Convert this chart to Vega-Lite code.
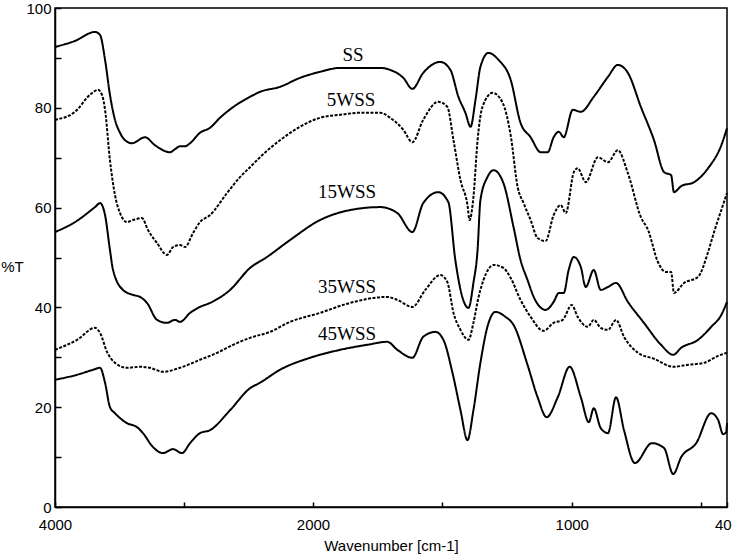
{
 "$schema": "https://vega.github.io/schema/vega-lite/v6.json",
 "width": 672, "height": 499,
 "autosize": "none",
 "padding": {"left": 55, "top": 8, "right": 5, "bottom": 49},
 "background": "white",
 "config": {
  "view": {"stroke": "black", "strokeWidth": 1.5},
  "font": "Liberation Sans",
  "axis": {"grid": false, "domainColor": "black", "tickColor": "black", "labelColor": "black", "titleColor": "black",
   "labelFont": "Liberation Sans", "titleFont": "Liberation Sans", "labelFontSize": 15, "titleFontSize": 15,
   "titleFontWeight": "normal", "domainWidth": 1.5, "tickWidth": 1.5}
 },
 "layer": [
  {
   "data": {"values": [
    {"series":"SS","wn":4000,"T":92.2},{"series":"SS","wn":3845,"T":93.4},{"series":"SS","wn":3690,"T":95.2},{"series":"SS","wn":3651,"T":94.6},{"series":"SS","wn":3612,"T":89.6},{"series":"SS","wn":3574,"T":82.6},{"series":"SS","wn":3535,"T":77.6},{"series":"SS","wn":3496,"T":75.0},{"series":"SS","wn":3457,"T":73.5},{"series":"SS","wn":3403,"T":72.9},{"series":"SS","wn":3302,"T":74.1},{"series":"SS","wn":3225,"T":72.5},{"series":"SS","wn":3109,"T":71.1},{"series":"SS","wn":3070,"T":71.7},{"series":"SS","wn":3031,"T":72.3},{"series":"SS","wn":2992,"T":72.3},{"series":"SS","wn":2953,"T":72.9},{"series":"SS","wn":2876,"T":75.0},{"series":"SS","wn":2798,"T":76.0},{"series":"SS","wn":2721,"T":78.0},{"series":"SS","wn":2605,"T":80.4},{"series":"SS","wn":2488,"T":82.2},{"series":"SS","wn":2411,"T":83.2},{"series":"SS","wn":2256,"T":84.2},{"series":"SS","wn":2101,"T":86.0},{"series":"SS","wn":1973,"T":87.2},{"series":"SS","wn":1895,"T":88.0},{"series":"SS","wn":1818,"T":88.0},{"series":"SS","wn":1740,"T":88.0},{"series":"SS","wn":1702,"T":87.6},{"series":"SS","wn":1651,"T":86.0},{"series":"SS","wn":1616,"T":83.8},{"series":"SS","wn":1574,"T":87.0},{"series":"SS","wn":1508,"T":89.2},{"series":"SS","wn":1469,"T":87.6},{"series":"SS","wn":1438,"T":82.2},{"series":"SS","wn":1411,"T":79.0},{"series":"SS","wn":1391,"T":76.2},{"series":"SS","wn":1372,"T":81.6},{"series":"SS","wn":1353,"T":88.2},{"series":"SS","wn":1322,"T":91.0},{"series":"SS","wn":1283,"T":89.6},{"series":"SS","wn":1236,"T":85.6},{"series":"SS","wn":1198,"T":77.0},{"series":"SS","wn":1159,"T":74.1},{"series":"SS","wn":1120,"T":71.1},{"series":"SS","wn":1093,"T":71.1},{"series":"SS","wn":1070,"T":74.1},{"series":"SS","wn":1050,"T":75.2},{"series":"SS","wn":1031,"T":74.1},{"series":"SS","wn":996,"T":79.6},{"series":"SS","wn":965,"T":79.2},{"series":"SS","wn":915,"T":82.2},{"series":"SS","wn":860,"T":86.2},{"series":"SS","wn":822,"T":88.6},{"series":"SS","wn":783,"T":87.0},{"series":"SS","wn":733,"T":80.2},{"series":"SS","wn":682,"T":73.5},{"series":"SS","wn":643,"T":67.1},{"series":"SS","wn":616,"T":66.5},{"series":"SS","wn":605,"T":63.1},{"series":"SS","wn":577,"T":64.3},{"series":"SS","wn":527,"T":65.1},{"series":"SS","wn":473,"T":67.9},{"series":"SS","wn":422,"T":72.5},{"series":"SS","wn":400,"T":75.9},

    {"series":"5WSS","wn":4000,"T":77.6},{"series":"5WSS","wn":3845,"T":79.2},{"series":"5WSS","wn":3729,"T":82.6},{"series":"5WSS","wn":3667,"T":83.6},{"series":"5WSS","wn":3636,"T":82.6},{"series":"5WSS","wn":3612,"T":79.6},{"series":"5WSS","wn":3574,"T":69.5},{"series":"5WSS","wn":3535,"T":62.5},{"series":"5WSS","wn":3496,"T":58.9},{"series":"5WSS","wn":3442,"T":57.1},{"series":"5WSS","wn":3395,"T":57.5},{"series":"5WSS","wn":3326,"T":57.9},{"series":"5WSS","wn":3279,"T":55.5},{"series":"5WSS","wn":3209,"T":52.9},{"series":"5WSS","wn":3132,"T":50.5},{"series":"5WSS","wn":3085,"T":52.1},{"series":"5WSS","wn":3031,"T":52.5},{"series":"5WSS","wn":2992,"T":52.1},{"series":"5WSS","wn":2930,"T":54.9},{"series":"5WSS","wn":2876,"T":57.1},{"series":"5WSS","wn":2798,"T":58.5},{"series":"5WSS","wn":2667,"T":62.9},{"series":"5WSS","wn":2566,"T":66.1},{"series":"5WSS","wn":2488,"T":68.1},{"series":"5WSS","wn":2411,"T":70.1},{"series":"5WSS","wn":2256,"T":73.5},{"series":"5WSS","wn":2101,"T":76.2},{"series":"5WSS","wn":1973,"T":78.0},{"series":"5WSS","wn":1895,"T":78.6},{"series":"5WSS","wn":1818,"T":79.0},{"series":"5WSS","wn":1740,"T":79.0},{"series":"5WSS","wn":1702,"T":78.0},{"series":"5WSS","wn":1651,"T":75.6},{"series":"5WSS","wn":1616,"T":73.1},{"series":"5WSS","wn":1574,"T":77.6},{"series":"5WSS","wn":1516,"T":81.2},{"series":"5WSS","wn":1481,"T":80.2},{"series":"5WSS","wn":1457,"T":73.5},{"series":"5WSS","wn":1430,"T":65.5},{"series":"5WSS","wn":1403,"T":60.5},{"series":"5WSS","wn":1395,"T":57.5},{"series":"5WSS","wn":1380,"T":62.1},{"series":"5WSS","wn":1364,"T":73.5},{"series":"5WSS","wn":1345,"T":80.2},{"series":"5WSS","wn":1306,"T":83.0},{"series":"5WSS","wn":1267,"T":81.0},{"series":"5WSS","wn":1236,"T":74.5},{"series":"5WSS","wn":1209,"T":64.1},{"series":"5WSS","wn":1186,"T":60.9},{"series":"5WSS","wn":1159,"T":57.5},{"series":"5WSS","wn":1132,"T":53.9},{"series":"5WSS","wn":1101,"T":53.3},{"series":"5WSS","wn":1070,"T":58.5},{"series":"5WSS","wn":1043,"T":60.5},{"series":"5WSS","wn":1023,"T":58.9},{"series":"5WSS","wn":992,"T":67.1},{"series":"5WSS","wn":977,"T":67.9},{"series":"5WSS","wn":946,"T":65.1},{"series":"5WSS","wn":899,"T":70.1},{"series":"5WSS","wn":860,"T":69.1},{"series":"5WSS","wn":822,"T":71.5},{"series":"5WSS","wn":783,"T":66.9},{"series":"5WSS","wn":733,"T":58.1},{"series":"5WSS","wn":705,"T":55.5},{"series":"5WSS","wn":667,"T":49.1},{"series":"5WSS","wn":636,"T":47.1},{"series":"5WSS","wn":616,"T":47.1},{"series":"5WSS","wn":605,"T":42.9},{"series":"5WSS","wn":566,"T":44.9},{"series":"5WSS","wn":512,"T":46.1},{"series":"5WSS","wn":473,"T":51.1},{"series":"5WSS","wn":450,"T":55.1},{"series":"5WSS","wn":422,"T":59.5},{"series":"5WSS","wn":400,"T":62.9},

    {"series":"15WSS","wn":4000,"T":55.1},{"series":"15WSS","wn":3845,"T":57.1},{"series":"15WSS","wn":3690,"T":60.1},{"series":"15WSS","wn":3651,"T":60.9},{"series":"15WSS","wn":3612,"T":58.5},{"series":"15WSS","wn":3574,"T":51.5},{"series":"15WSS","wn":3550,"T":47.5},{"series":"15WSS","wn":3473,"T":43.5},{"series":"15WSS","wn":3395,"T":42.5},{"series":"15WSS","wn":3341,"T":42.1},{"series":"15WSS","wn":3287,"T":40.9},{"series":"15WSS","wn":3209,"T":37.5},{"series":"15WSS","wn":3132,"T":36.9},{"series":"15WSS","wn":3070,"T":37.5},{"series":"15WSS","wn":3031,"T":37.1},{"series":"15WSS","wn":2953,"T":38.9},{"series":"15WSS","wn":2876,"T":40.1},{"series":"15WSS","wn":2798,"T":40.9},{"series":"15WSS","wn":2643,"T":43.5},{"series":"15WSS","wn":2488,"T":47.9},{"series":"15WSS","wn":2357,"T":50.1},{"series":"15WSS","wn":2178,"T":53.5},{"series":"15WSS","wn":1973,"T":57.5},{"series":"15WSS","wn":1857,"T":59.5},{"series":"15WSS","wn":1740,"T":60.1},{"series":"15WSS","wn":1674,"T":58.9},{"series":"15WSS","wn":1616,"T":55.1},{"series":"15WSS","wn":1574,"T":60.9},{"series":"15WSS","wn":1516,"T":63.1},{"series":"15WSS","wn":1477,"T":61.1},{"series":"15WSS","wn":1450,"T":49.5},{"series":"15WSS","wn":1423,"T":42.1},{"series":"15WSS","wn":1399,"T":39.9},{"series":"15WSS","wn":1380,"T":44.9},{"series":"15WSS","wn":1364,"T":51.5},{"series":"15WSS","wn":1353,"T":61.5},{"series":"15WSS","wn":1326,"T":66.1},{"series":"15WSS","wn":1302,"T":67.5},{"series":"15WSS","wn":1264,"T":64.9},{"series":"15WSS","wn":1225,"T":56.1},{"series":"15WSS","wn":1198,"T":49.5},{"series":"15WSS","wn":1171,"T":45.5},{"series":"15WSS","wn":1147,"T":42.1},{"series":"15WSS","wn":1101,"T":39.5},{"series":"15WSS","wn":1070,"T":41.1},{"series":"15WSS","wn":1050,"T":42.9},{"series":"15WSS","wn":1031,"T":42.9},{"series":"15WSS","wn":1012,"T":47.5},{"series":"15WSS","wn":992,"T":50.1},{"series":"15WSS","wn":965,"T":48.1},{"series":"15WSS","wn":946,"T":44.1},{"series":"15WSS","wn":915,"T":47.5},{"series":"15WSS","wn":888,"T":43.5},{"series":"15WSS","wn":860,"T":44.1},{"series":"15WSS","wn":829,"T":44.9},{"series":"15WSS","wn":783,"T":41.1},{"series":"15WSS","wn":721,"T":36.9},{"series":"15WSS","wn":655,"T":32.5},{"series":"15WSS","wn":608,"T":30.5},{"series":"15WSS","wn":577,"T":31.9},{"series":"15WSS","wn":512,"T":33.5},{"series":"15WSS","wn":461,"T":36.1},{"series":"15WSS","wn":422,"T":38.5},{"series":"15WSS","wn":400,"T":41.1},

    {"series":"35WSS","wn":4000,"T":31.5},{"series":"35WSS","wn":3829,"T":33.5},{"series":"35WSS","wn":3690,"T":35.9},{"series":"35WSS","wn":3651,"T":34.9},{"series":"35WSS","wn":3597,"T":31.1},{"series":"35WSS","wn":3535,"T":28.9},{"series":"35WSS","wn":3442,"T":27.9},{"series":"35WSS","wn":3341,"T":28.1},{"series":"35WSS","wn":3264,"T":27.9},{"series":"35WSS","wn":3163,"T":27.1},{"series":"35WSS","wn":3031,"T":27.9},{"series":"35WSS","wn":2876,"T":29.5},{"series":"35WSS","wn":2744,"T":30.9},{"series":"35WSS","wn":2620,"T":32.5},{"series":"35WSS","wn":2488,"T":33.9},{"series":"35WSS","wn":2333,"T":35.1},{"series":"35WSS","wn":2178,"T":37.1},{"series":"35WSS","wn":1973,"T":38.9},{"series":"35WSS","wn":1857,"T":40.9},{"series":"35WSS","wn":1713,"T":42.1},{"series":"35WSS","wn":1674,"T":41.5},{"series":"35WSS","wn":1616,"T":40.1},{"series":"35WSS","wn":1566,"T":43.5},{"series":"35WSS","wn":1508,"T":46.5},{"series":"35WSS","wn":1481,"T":45.1},{"series":"35WSS","wn":1457,"T":38.9},{"series":"35WSS","wn":1430,"T":35.5},{"series":"35WSS","wn":1399,"T":33.5},{"series":"35WSS","wn":1380,"T":36.9},{"series":"35WSS","wn":1360,"T":42.1},{"series":"35WSS","wn":1341,"T":45.5},{"series":"35WSS","wn":1302,"T":48.5},{"series":"35WSS","wn":1264,"T":47.9},{"series":"35WSS","wn":1236,"T":45.9},{"series":"35WSS","wn":1198,"T":41.5},{"series":"35WSS","wn":1159,"T":38.1},{"series":"35WSS","wn":1109,"T":35.3},{"series":"35WSS","wn":1070,"T":36.9},{"series":"35WSS","wn":1035,"T":37.5},{"series":"35WSS","wn":1000,"T":40.5},{"series":"35WSS","wn":977,"T":38.1},{"series":"35WSS","wn":938,"T":36.1},{"series":"35WSS","wn":915,"T":37.5},{"series":"35WSS","wn":888,"T":35.9},{"series":"35WSS","wn":860,"T":35.5},{"series":"35WSS","wn":829,"T":37.5},{"series":"35WSS","wn":798,"T":34.1},{"series":"35WSS","wn":744,"T":30.9},{"series":"35WSS","wn":682,"T":29.7},{"series":"35WSS","wn":608,"T":28.1},{"series":"35WSS","wn":550,"T":28.5},{"series":"35WSS","wn":488,"T":28.9},{"series":"35WSS","wn":434,"T":30.3},{"series":"35WSS","wn":400,"T":30.9},

    {"series":"45WSS","wn":4000,"T":25.5},{"series":"45WSS","wn":3829,"T":26.5},{"series":"45WSS","wn":3705,"T":27.5},{"series":"45WSS","wn":3651,"T":27.9},{"series":"45WSS","wn":3612,"T":24.9},{"series":"45WSS","wn":3574,"T":20.0},{"series":"45WSS","wn":3535,"T":18.8},{"series":"45WSS","wn":3442,"T":16.8},{"series":"45WSS","wn":3364,"T":16.0},{"series":"45WSS","wn":3318,"T":14.8},{"series":"45WSS","wn":3240,"T":12.0},{"series":"45WSS","wn":3163,"T":10.8},{"series":"45WSS","wn":3085,"T":11.6},{"series":"45WSS","wn":3016,"T":10.8},{"series":"45WSS","wn":2953,"T":12.8},{"series":"45WSS","wn":2876,"T":14.8},{"series":"45WSS","wn":2798,"T":15.4},{"series":"45WSS","wn":2643,"T":19.4},{"series":"45WSS","wn":2488,"T":23.8},{"series":"45WSS","wn":2411,"T":24.9},{"series":"45WSS","wn":2256,"T":27.5},{"series":"45WSS","wn":2023,"T":29.9},{"series":"45WSS","wn":1895,"T":31.5},{"series":"45WSS","wn":1791,"T":32.5},{"series":"45WSS","wn":1713,"T":33.1},{"series":"45WSS","wn":1674,"T":31.5},{"series":"45WSS","wn":1616,"T":29.9},{"series":"45WSS","wn":1574,"T":34.1},{"series":"45WSS","wn":1527,"T":35.1},{"series":"45WSS","wn":1496,"T":33.5},{"series":"45WSS","wn":1461,"T":26.9},{"series":"45WSS","wn":1430,"T":19.4},{"series":"45WSS","wn":1403,"T":13.4},{"series":"45WSS","wn":1380,"T":19.4},{"series":"45WSS","wn":1353,"T":28.9},{"series":"45WSS","wn":1326,"T":36.1},{"series":"45WSS","wn":1295,"T":39.1},{"series":"45WSS","wn":1256,"T":38.1},{"series":"45WSS","wn":1225,"T":36.5},{"series":"45WSS","wn":1171,"T":28.5},{"series":"45WSS","wn":1132,"T":22.0},{"series":"45WSS","wn":1097,"T":18.0},{"series":"45WSS","wn":1054,"T":22.0},{"series":"45WSS","wn":1008,"T":28.1},{"series":"45WSS","wn":965,"T":22.0},{"series":"45WSS","wn":934,"T":17.0},{"series":"45WSS","wn":915,"T":19.8},{"series":"45WSS","wn":888,"T":15.8},{"series":"45WSS","wn":860,"T":14.8},{"series":"45WSS","wn":829,"T":22.0},{"series":"45WSS","wn":798,"T":15.4},{"series":"45WSS","wn":756,"T":8.8},{"series":"45WSS","wn":690,"T":12.8},{"series":"45WSS","wn":643,"T":11.8},{"series":"45WSS","wn":608,"T":6.6},{"series":"45WSS","wn":577,"T":10.0},{"series":"45WSS","wn":519,"T":12.8},{"series":"45WSS","wn":461,"T":18.8},{"series":"45WSS","wn":434,"T":17.4},{"series":"45WSS","wn":415,"T":14.6},{"series":"45WSS","wn":403,"T":15.0},{"series":"45WSS","wn":400,"T":16.8}
   ]},
   "mark": {"type": "line", "color": "black", "strokeWidth": 2, "interpolate": "monotone"},
   "encoding": {
    "x": {"field": "wn", "type": "quantitative",
     "scale": {"type": "linear", "domain": [4000, 2000, 400], "range": [0, 258, 672], "nice": false, "zero": false},
     "axis": {"title": "Wavenumber [cm-1]", "values": [4000, 3000, 2000, 1500, 1000, 500, 400], "format": "d",
      "labelExpr": "datum.value == 3000 || datum.value == 1500 || datum.value == 500 ? '' : datum.label",
      "tickSize": -5, "labelPadding": 15, "labelFlush": false, "labelOverlap": false, "titlePadding": 6}},
    "y": {"field": "T", "type": "quantitative",
     "scale": {"domain": [0, 100], "nice": false, "zero": false},
     "axis": {"title": "%T", "values": [0, 10, 20, 30, 40, 50, 60, 70, 80, 90, 100],
      "labelExpr": "datum.value % 20 == 0 ? datum.label : ''",
      "tickSize": -6, "labelPadding": 10, "labelOverlap": false,
      "titleAngle": 0, "titleX": -43, "titleY": 258, "titleAlign": "center", "titleBaseline": "middle"}},
    "strokeDash": {"field": "series", "type": "nominal",
     "scale": {"domain": ["SS", "5WSS", "15WSS", "35WSS", "45WSS"], "range": [[1, 0], [3, 1.5], [1, 0], [3, 1.5], [1, 0]]},
     "legend": null}
   }
  },
  {
   "data": {"values": [
    {"label": "SS", "wn": 1845, "T": 90.6},
    {"label": "5WSS", "wn": 1853, "T": 81.6},
    {"label": "15WSS", "wn": 1868, "T": 63.1},
    {"label": "35WSS", "wn": 1868, "T": 44.1},
    {"label": "45WSS", "wn": 1868, "T": 34.7}
   ]},
   "mark": {"type": "text", "font": "Liberation Serif", "fontSize": 19, "color": "black", "align": "center", "baseline": "middle"},
   "encoding": {
    "x": {"field": "wn", "type": "quantitative"},
    "y": {"field": "T", "type": "quantitative"},
    "text": {"field": "label"}
   }
  }
 ]
}
